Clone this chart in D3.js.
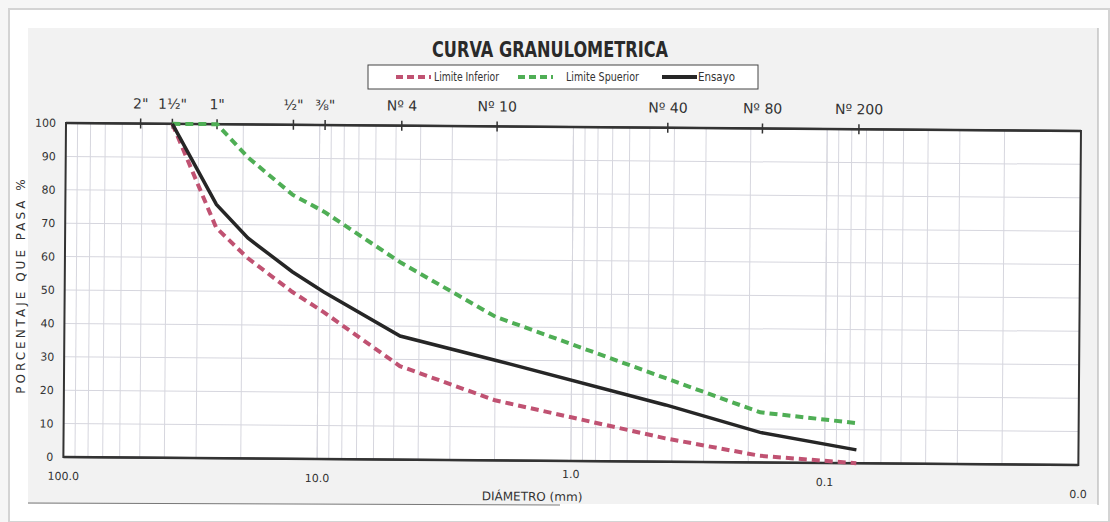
<!DOCTYPE html>
<html>
<head>
<script src="https://cdn.jsdelivr.net/npm/d3@7"></script>
<style>
  body { margin: 0; background: #fff; }
  text { font-family: "Liberation Sans Narrow", "DejaVu Sans", sans-serif; fill: #333; }
</style>
</head>
<body>
<script>
  // sieve openings (mm) and their names along the top
  var sieveSizes = [50.8, 38.1, 25.4, 12.7, 9.525, 4.75, 2.0, 0.425, 0.18, 0.075];
  var sieveNames = ['2"', '1½"', '1"', '½"', '⅜"', "Nº 4", "Nº 10", "Nº 40", "Nº 80", "Nº 200"];

  // curves: diameter (mm) / percent passing
  var inferiorSize = [38.1, 25.4, 19.05, 12.7, 9.525, 4.75, 2.0, 0.425, 0.18, 0.075];
  var inferiorPass = [100, 69, 60, 50, 44, 28, 18, 7, 2, 0];
  var superiorSize = [38.1, 25.4, 19.05, 12.7, 9.525, 4.75, 2.0, 0.425, 0.18, 0.075];
  var superiorPass = [100, 100, 90, 79, 74, 59, 43, 25, 15, 12];
  var ensayoSize = [38.1, 25.4, 19.05, 12.7, 9.525, 4.75, 2.0, 0.425, 0.18, 0.075];
  var ensayoPass = [100, 76, 66, 56, 50, 37, 30, 17, 9, 4];

  var xTickVals = [100, 10, 1, 0.1, 0.01];
  var xTickText = ["100.0", "10.0", "1.0", "0.1", "0.0"];
  var yTickVals = [0, 10, 20, 30, 40, 50, 60, 70, 80, 90, 100];

  var width = 1110, height = 522;
  var pLeft = 66, pRight = 1081, pTop = 123, pBottom = 457;

  var svg = d3.select("body").append("svg")
    .attr("width", width)
    .attr("height", height);

  // page / card background
  svg.append("rect").attr("width", width).attr("height", height).attr("fill", "#f6f6f6");
  svg.append("rect").attr("x", 9).attr("y", 9).attr("width", 1100).attr("height", 513)
    .attr("fill", "#fff").attr("stroke", "#d4d4d4").attr("stroke-width", 2);
  svg.append("rect").attr("x", 28).attr("y", 28).attr("width", 1070).attr("height", 476)
    .attr("fill", "#f2f2f2");
  svg.append("line").attr("x1", 1098).attr("x2", 1098).attr("y1", 28).attr("y2", 505)
    .attr("stroke", "#aaa").attr("stroke-width", 1);
  svg.append("line").attr("x1", 28).attr("x2", 560).attr("y1", 503).attr("y2", 505)
    .attr("stroke", "#777").attr("stroke-width", 1);

  var g = svg.append("g").attr("transform", "rotate(0.45," + pLeft + "," + pTop + ")");

  var x = d3.scaleLog().domain([100, 0.01]).range([pLeft, pRight]);
  var y = d3.scaleLinear().domain([0, 100]).range([pBottom, pTop]);

  g.append("rect").attr("x", pLeft).attr("y", pTop)
    .attr("width", pRight - pLeft).attr("height", pBottom - pTop).attr("fill", "#fff");

  // grid
  var minor = [];
  [0.01, 0.1, 1, 10].forEach(function(d) {
    for (var k = 1; k <= 10; k++) minor.push(d * k);
  });
  g.selectAll(".vgrid").data(minor).enter().append("line")
    .attr("x1", function(d) { return x(d); }).attr("x2", function(d) { return x(d); })
    .attr("y1", pTop).attr("y2", pBottom)
    .attr("stroke", "#d6d6de").attr("stroke-width", 1);
  g.selectAll(".hgrid").data(yTickVals).enter().append("line")
    .attr("x1", pLeft).attr("x2", pRight)
    .attr("y1", function(d) { return y(d); }).attr("y2", function(d) { return y(d); })
    .attr("stroke", "#d6d6de").attr("stroke-width", 1);

  // border
  g.append("rect").attr("x", pLeft).attr("y", pTop)
    .attr("width", pRight - pLeft).attr("height", pBottom - pTop)
    .attr("fill", "none").attr("stroke", "#333").attr("stroke-width", 2);
  g.append("line").attr("x1", pLeft).attr("x2", pRight).attr("y1", pTop).attr("y2", pTop)
    .attr("stroke", "#333").attr("stroke-width", 2.5);
  g.append("line").attr("x1", pLeft).attr("x2", pRight).attr("y1", pBottom).attr("y2", pBottom)
    .attr("stroke", "#333").attr("stroke-width", 2.5);

  // sieve ticks and labels
  g.selectAll(".stick").data(sieveSizes).enter().append("line")
    .attr("x1", function(d) { return x(d); }).attr("x2", function(d) { return x(d); })
    .attr("y1", pTop - 5).attr("y2", pTop + 5)
    .attr("stroke", "#333").attr("stroke-width", 1.5);
  g.selectAll(".slabel").data(sieveSizes).enter().append("text")
    .attr("x", function(d) { return x(d); })
    .attr("y", pTop - 15)
    .attr("text-anchor", "middle")
    .style("font-size", "14px")
    .text(function(d, i) { return sieveNames[i]; });

  // y tick labels
  g.selectAll(".ylab").data(yTickVals).enter().append("text")
    .attr("x", pLeft - 10).attr("y", function(d) { return y(d) + 4; })
    .attr("text-anchor", "end")
    .style("font-size", "11px")
    .text(function(d) { return d; });

  // x tick labels
  g.selectAll(".xlab").data(xTickVals).enter().append("text")
    .attr("x", function(d) { return x(d); })
    .attr("y", function(d, i) { return i == 2 ? pBottom + 17 : (i == 4 ? pBottom + 33 : pBottom + 23); })
    .attr("text-anchor", "middle")
    .style("font-size", "11px")
    .text(function(d, i) { return xTickText[i]; });

  g.append("text").attr("x", 535).attr("y", pBottom + 40)
    .attr("text-anchor", "middle").style("font-size", "12px")
    .text("DIÁMETRO (mm)");

  svg.append("text")
    .attr("transform", "translate(25,285) rotate(-90)")
    .attr("text-anchor", "middle")
    .style("font-size", "12px")
    .style("letter-spacing", "3px")
    .text("PORCENTAJE QUE PASA %");

  // curves
  var line = d3.line()
    .x(function(d) { return x(d[0]); })
    .y(function(d) { return y(d[1]); });

  function pairs(s, p) { return s.map(function(d, i) { return [d, p[i]]; }); }

  g.append("path").datum(pairs(inferiorSize, inferiorPass))
    .attr("d", line).attr("fill", "none")
    .attr("stroke", "#c05272").attr("stroke-width", 4).attr("stroke-dasharray", "8,5");
  g.append("path").datum(pairs(superiorSize, superiorPass))
    .attr("d", line).attr("fill", "none")
    .attr("stroke", "#4fae55").attr("stroke-width", 4).attr("stroke-dasharray", "8,5");
  g.append("path").datum(pairs(ensayoSize, ensayoPass))
    .attr("d", line).attr("fill", "none")
    .attr("stroke", "#262626").attr("stroke-width", 3.5);

  // title
  svg.append("text").attr("x", 432).attr("y", 57)
    .attr("textLength", 236).attr("lengthAdjust", "spacingAndGlyphs")
    .style("font-size", "22px").style("font-weight", "bold").style("fill", "#2a2a2a")
    .text("CURVA GRANULOMETRICA");

  // legend
  var leg = svg.append("g");
  leg.append("rect").attr("x", 368).attr("y", 65).attr("width", 390).attr("height", 24)
    .attr("fill", "#fff").attr("stroke", "#444").attr("stroke-width", 1);
  var legItems = [
    { x: 396, tx: 434, tw: 65, label: "Limite Inferior", color: "#c05272", dash: "7,4" },
    { x: 518, tx: 566, tw: 73, label: "Limite Spuerior", color: "#4fae55", dash: "7,4" },
    { x: 662, tx: 698, tw: 37, label: "Ensayo", color: "#262626", dash: null }
  ];
  legItems.forEach(function(d) {
    leg.append("line").attr("x1", d.x).attr("x2", d.x + 35).attr("y1", 77).attr("y2", 77)
      .attr("stroke", d.color).attr("stroke-width", 4)
      .attr("stroke-dasharray", d.dash);
    leg.append("text").attr("x", d.tx).attr("y", 81)
      .attr("textLength", d.tw).attr("lengthAdjust", "spacingAndGlyphs")
      .style("font-size", "12px").text(d.label);
  });
</script>
</body>
</html>
